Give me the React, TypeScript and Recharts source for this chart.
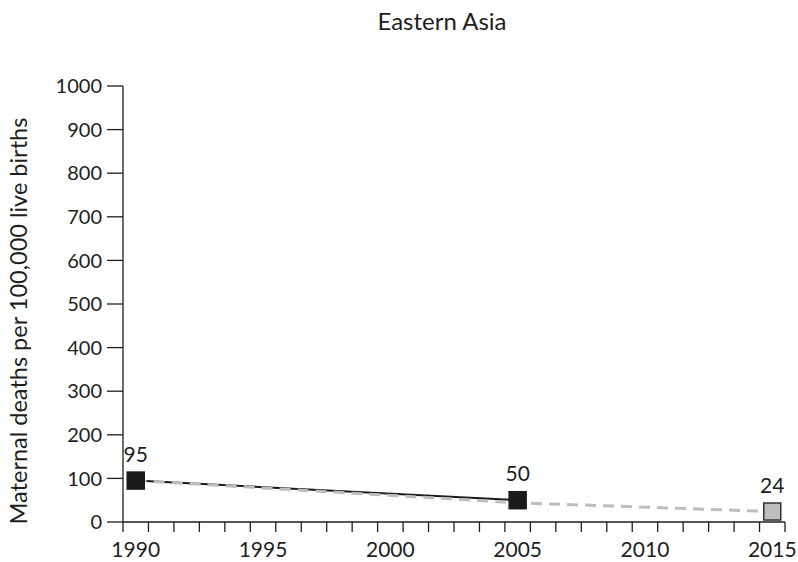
import React from 'react';
import { LineChart, Line, XAxis, YAxis, LabelList } from 'recharts';

// Values
const years = [1990, 2005, 2015];
const observed = [95, 50, null];
const trend = [95, 44, 24];
const trendLabels = ['', '', '24'];
const observedLabels = ['95', '50', ''];

const yTicks = [0, 100, 200, 300, 400, 500, 600, 700, 800, 900, 1000];
const labelYears = [1990, 1995, 2000, 2005, 2010, 2015];

const data = years.map((year, i) => ({
  year,
  observed: observed[i],
  trend: trend[i],
  observedLabel: observedLabels[i],
  trendLabel: trendLabels[i],
}));

// tick marks sit between years, labels sit on the years
const xTicks: number[] = [];
for (let v = 1989.5; v <= 2015.5; v += 0.5) xTicks.push(v);

const FONT = 'Lato, "Open Sans", sans-serif';
const INK = '#1e1e1e';

const XTick = (props: any) => {
  const { x, y, payload } = props;
  const v = payload.value;
  if (!Number.isInteger(v)) {
    return <line x1={x} x2={x} y1={y} y2={y + 10} stroke={INK} strokeWidth={1.3} />;
  }
  if (!labelYears.includes(v)) return null;
  return (
    <text x={x} y={y + 35} textAnchor="middle" fill={INK} fontSize={21} fontFamily={FONT}>
      {v}
    </text>
  );
};

const Square = (props: any) => {
  const { cx, cy, fill, stroke, show } = props;
  if (!show || cx == null || cy == null) return null;
  return <rect x={cx - 8.5} y={cy - 8.5} width={17} height={17} fill={fill} stroke={stroke} strokeWidth={1.5} />;
};

const PointLabel = (props: any) => {
  const { x, y, value } = props;
  if (!value) return null;
  return (
    <text x={x} y={y - 19} textAnchor="middle" fill={INK} fontSize={21} fontFamily={FONT}>
      {value}
    </text>
  );
};

export default function App() {
  if (typeof document !== 'undefined') document.body.style.margin = '0';
  return (
    <div style={{ position: 'relative', width: 798, height: 562, background: '#fff', fontFamily: FONT }}>
      <div style={{ position: 'absolute', left: 0, width: 884, top: 6, textAlign: 'center', fontSize: 24, color: INK }}>
        Eastern Asia
      </div>
      <div
        style={{
          position: 'absolute',
          left: 18,
          top: 321,
          transform: 'translate(-50%, -50%) rotate(-90deg)',
          whiteSpace: 'nowrap',
          fontSize: 23.5,
          color: INK,
        }}
      >
        Maternal deaths per 100,000 live births
      </div>
      <LineChart width={798} height={562} data={data} margin={{ top: 86, right: 13, bottom: 0, left: 0 }}>
        <XAxis
          dataKey="year"
          type="number"
          domain={[1989.5, 2015.5]}
          ticks={xTicks}
          interval={0}
          tick={<XTick />}
          tickLine={false}
          tickSize={0}
          tickMargin={0}
          height={40}
          axisLine={{ stroke: INK, strokeWidth: 1.3 }}
        />
        <YAxis
          type="number"
          domain={[0, 1000]}
          ticks={yTicks}
          interval={0}
          width={123}
          tickSize={16}
          tickMargin={5}
          tick={{ fill: INK, fontSize: 20, fontFamily: FONT }}
          tickLine={{ stroke: INK, strokeWidth: 1.3 }}
          axisLine={{ stroke: INK, strokeWidth: 1.3 }}
        />
        <Line
          dataKey="observed"
          stroke="#1a1a1a"
          strokeWidth={2}
          type="linear"
          isAnimationActive={false}
          dot={(p: any) => (
            <Square key={`o-${p.index}`} {...p} show={p.value != null} fill="#1a1a1a" stroke="#1a1a1a" />
          )}
          activeDot={false}
        >
          <LabelList dataKey="observedLabel" content={<PointLabel />} />
        </Line>
        <Line
          dataKey="trend"
          stroke="#bdbdbd"
          strokeWidth={3}
          strokeDasharray="11 7"
          type="linear"
          isAnimationActive={false}
          dot={(p: any) => (
            <Square key={`t-${p.index}`} {...p} show={p.index === 2} fill="#bdbdbd" stroke="#333" />
          )}
          activeDot={false}
        >
          <LabelList dataKey="trendLabel" content={<PointLabel />} />
        </Line>
      </LineChart>
    </div>
  );
}
